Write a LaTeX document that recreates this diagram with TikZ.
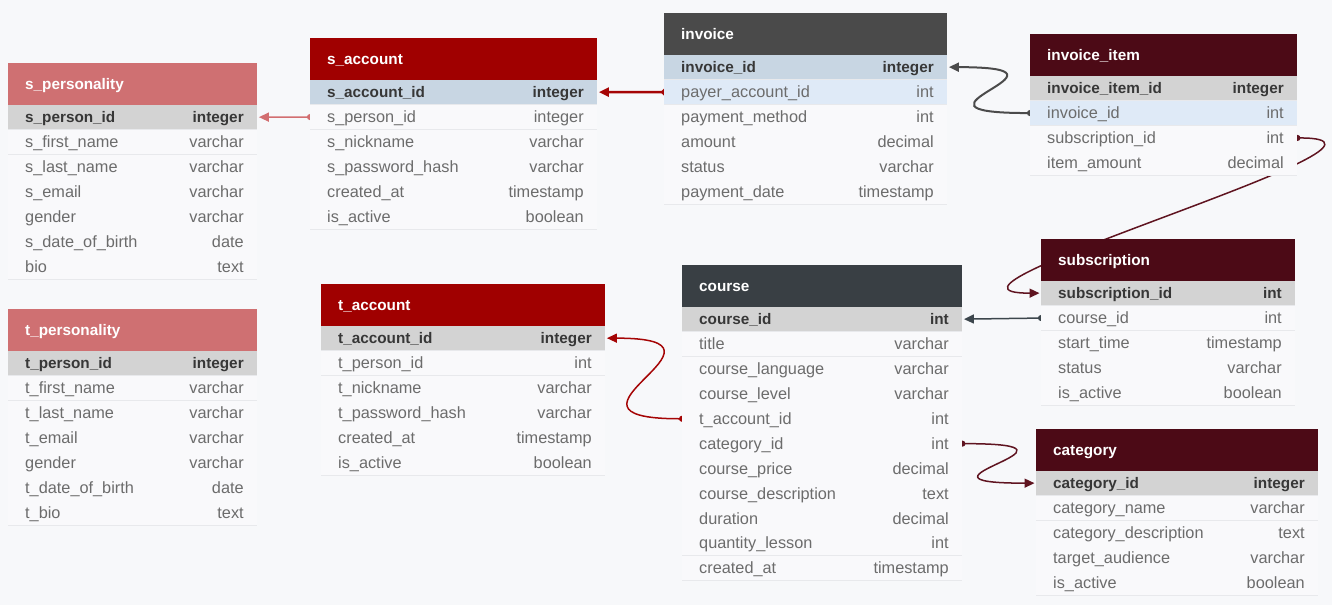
\documentclass[tikz,border=0pt]{standalone}
\usepackage{fontspec}
\setmainfont{Liberation Sans}
\usetikzlibrary{arrows.meta}
\definecolor{bgc}{RGB}{247,248,250}
\definecolor{rowc}{RGB}{249,249,251}
\definecolor{sepc}{RGB}{232,233,236}
\definecolor{pkgray}{RGB}{211,211,211}
\definecolor{pkblue}{RGB}{200,214,227}
\definecolor{fkblue}{RGB}{223,234,247}
\definecolor{txtc}{RGB}{108,108,108}
\definecolor{pktxt}{RGB}{55,55,55}
\definecolor{hpers}{RGB}{207,112,114}
\definecolor{hacc}{RGB}{160,0,0}
\definecolor{hinv}{RGB}{74,74,74}
\definecolor{hcourse}{RGB}{57,63,68}
\definecolor{hmar}{RGB}{76,10,22}
\definecolor{csalmon}{RGB}{210,110,112}
\definecolor{cred}{RGB}{165,5,5}
\definecolor{cgray}{RGB}{75,75,75}
\definecolor{cslate}{RGB}{60,70,76}
\definecolor{cmar}{RGB}{95,20,32}
\newcommand{\fnreg}{\fontsize{16.3}{19}\selectfont}
\newcommand{\fnbold}{\fontsize{15.3}{18}\selectfont\bfseries}
\pgfdeclarelayer{back}
\pgfdeclarelayer{mid}
\pgfsetlayers{back,mid,main}
\tikzset{
  hdr/.style={rectangle, draw=none, inner sep=0pt, minimum height=41.5},
  hdrtxt/.style={inner sep=0pt, text=white, font=\fnbold},
  rowbase/.style={rectangle, inner sep=0pt, minimum height=24.9, draw=none},
  rowN/.style={rowbase, fill=rowc},
  rowPK/.style={rowbase, fill=pkgray},
  rowPKB/.style={rowbase, fill=pkblue},
  rowFK/.style={rowbase, fill=fkblue},
  txtrowN/.style={inner sep=0pt, text=txtc, font=\fnreg},
  txtrowFK/.style={inner sep=0pt, text=txtc, font=\fnreg},
  txtrowPK/.style={inner sep=0pt, text=pktxt, font=\fnbold},
  txtrowPKB/.style={inner sep=0pt, text=pktxt, font=\fnbold},
  sepline/.style={draw=sepc, line width=0.9},
  conn/.style={line width=1.5, {Circle[length=6pt]}-{Triangle[length=10pt,width=9pt]}, shorten >=1.5pt, shorten <=-3pt},
}
\newcommand{\dbtable}[7]{%
  \node[hdr, fill=#5, minimum width=#4, anchor=north west] (#1) at (#2,#3) {};
  \node[hdrtxt, anchor=base west, xshift=17, yshift=-5.5] (#1-title) at (#1.west) {#6};
  \foreach[count=\i] \k/\f/\t in {#7} {
    \node[\k, minimum width=#4, anchor=north west] (#1-\i) at (#2,{#3+41.5+(\i-1)*24.9}) {};
    \draw[sepline] (#1-\i.south west) -- (#1-\i.south east);
    \node[txt\k, anchor=base west, xshift=17, yshift=-5.7] (#1-\i-f) at (#1-\i.west) {\f};
    \node[txt\k, anchor=base east, xshift=-13.5, yshift=-5.7] (#1-\i-t) at (#1-\i.east) {\t};
  }%
}
\begin{document}
\begin{tikzpicture}[x=1pt,y=-1pt]
\begin{pgfonlayer}{back}
\fill[bgc] (0,0) rectangle (1332,605);
\end{pgfonlayer}
\useasboundingbox (0,0) rectangle (1332,605);

\dbtable{spers}{8}{63}{249}{hpers}{s\_personality}{%
  rowPK/s\_person\_id/integer, rowN/s\_first\_name/varchar, rowN/s\_last\_name/varchar,
  rowN/s\_email/varchar, rowN/gender/varchar, rowN/s\_date\_of\_birth/date, rowN/bio/text}
\dbtable{tpers}{8}{309}{249}{hpers}{t\_personality}{%
  rowPK/t\_person\_id/integer, rowN/t\_first\_name/varchar, rowN/t\_last\_name/varchar,
  rowN/t\_email/varchar, rowN/gender/varchar, rowN/t\_date\_of\_birth/date, rowN/t\_bio/text}
\dbtable{sacc}{310}{38}{287}{hacc}{s\_account}{%
  rowPKB/s\_account\_id/integer, rowN/s\_person\_id/integer, rowN/s\_nickname/varchar,
  rowN/s\_password\_hash/varchar, rowN/created\_at/timestamp, rowN/is\_active/boolean}
\dbtable{tacc}{321}{284}{284}{hacc}{t\_account}{%
  rowPK/t\_account\_id/integer, rowN/t\_person\_id/int, rowN/t\_nickname/varchar,
  rowN/t\_password\_hash/varchar, rowN/created\_at/timestamp, rowN/is\_active/boolean}
\dbtable{inv}{664}{13}{283}{hinv}{invoice}{%
  rowPKB/invoice\_id/integer, rowFK/payer\_account\_id/int, rowN/payment\_method/int,
  rowN/amount/decimal, rowN/status/varchar, rowN/payment\_date/timestamp}
\dbtable{ii}{1030}{34}{267}{hmar}{invoice\_item}{%
  rowPK/invoice\_item\_id/integer, rowFK/invoice\_id/int, rowN/subscription\_id/int,
  rowN/item\_amount/decimal}
\dbtable{course}{682}{265}{280}{hcourse}{course}{%
  rowPK/course\_id/int, rowN/title/varchar, rowN/course\_language/varchar,
  rowN/course\_level/varchar, rowN/t\_account\_id/int, rowN/category\_id/int,
  rowN/course\_price/decimal, rowN/course\_description/text, rowN/duration/decimal,
  rowN/quantity\_lesson/int, rowN/created\_at/timestamp}
\dbtable{subs}{1041}{239}{254}{hmar}{subscription}{%
  rowPK/subscription\_id/int, rowN/course\_id/int, rowN/start\_time/timestamp,
  rowN/status/varchar, rowN/is\_active/boolean}
\dbtable{cat}{1036}{429}{282}{hmar}{category}{%
  rowPK/category\_id/integer, rowN/category\_name/varchar, rowN/category\_description/text,
  rowN/target\_audience/varchar, rowN/is\_active/boolean}

\begin{pgfonlayer}{mid}
\draw[conn, csalmon] (sacc-2.west) -- (spers-1.east);
\draw[conn, cred, line width=2.5] (inv-2.west) -- (sacc-1.east);
\draw[conn, cgray, line width=2] (ii-2.west) .. controls +(-150,0) and +(150,0) .. (inv-1.east);
\draw[conn, cmar] (ii-3.east) .. controls +(150,0) and +(-150,0) .. (subs-1.west);
\draw[conn, cslate] (subs-2.west) -- (course-1.east);
\draw[conn, cred] (course-5.west) .. controls +(-150,0) and +(150,0) .. (tacc-1.east);
\draw[conn, cmar] (course-6.east) .. controls +(150,0) and +(-150,0) .. (cat-1.west);
\end{pgfonlayer}
\end{tikzpicture}
\end{document}
